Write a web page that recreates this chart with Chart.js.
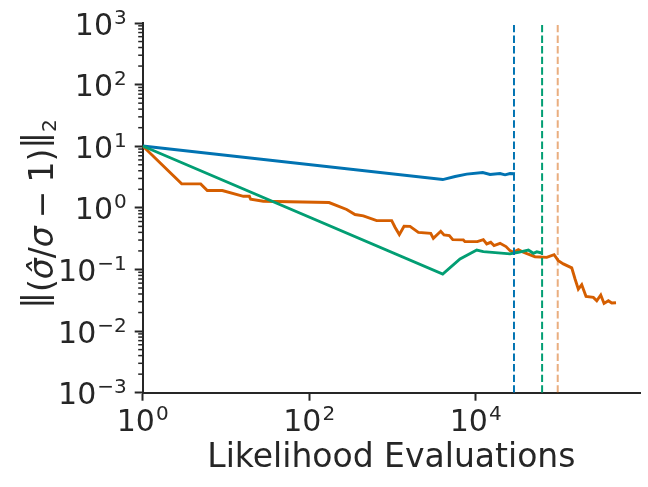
<!DOCTYPE html>
<html>
<head>
<meta charset="utf-8">
<script src="https://cdn.jsdelivr.net/npm/chart.js@4/dist/chart.umd.min.js"></script>
<style>
  html, body { margin: 0; padding: 0; background: #fff; }
  canvas { display: block; }
</style>
</head>
<body>
<canvas id="chart" width="648" height="487"></canvas>
<script>
// likelihood evaluations vs error, three runs
const blueX = [1, 4015, 5650, 7800, 12140, 14860, 19600, 22500, 25800, 29650];
const blueY = [10.1, 2.88, 3.23, 3.52, 3.75, 3.48, 3.61, 3.44, 3.61, 3.57];

const greenX = [1, 4015, 6480, 10290, 12340, 25800, 32500, 42900, 49200, 54100, 62100];
const greenY = [10.1, 0.0845, 0.148, 0.207, 0.195, 0.179, 0.19, 0.207, 0.183, 0.193, 0.185];

const orangeX = [1, 2.94, 4.97, 5.97, 9.04, 16.2, 19.1, 19.8, 28.1, 173, 282, 355, 447, 646, 979, 1073,
  1209, 1377, 1626, 2046, 2880, 3097, 3800, 4160, 4820, 5300, 7100, 7430, 10450, 12340, 13550, 15140,
  16590, 19590, 23100, 25800, 28300, 32500, 37300, 51500, 71300, 87300, 98200, 112800, 142300, 156000,
  170800, 187600, 211300, 258700, 284300, 317500, 347700, 391700, 430000, 484000];
const orangeY = [10.1, 2.45, 2.45, 1.91, 1.91, 1.54, 1.54, 1.38, 1.28, 1.22, 0.94, 0.78, 0.74, 0.62, 0.62, 0.484,
  0.368, 0.502, 0.50, 0.40, 0.386, 0.32, 0.417, 0.364, 0.355, 0.305, 0.302, 0.283, 0.283, 0.305, 0.26, 0.276,
  0.244, 0.266, 0.235, 0.202, 0.19, 0.21, 0.19, 0.161, 0.157, 0.174, 0.139, 0.123, 0.106, 0.070,
  0.048, 0.0566, 0.0365, 0.0352, 0.0311, 0.0385, 0.0281, 0.0311, 0.0285, 0.0289];

// budget markers (dashed verticals)
const vlineX = [28800, 62700, 96600];

// ticks: labels are 10^exp
const xTickValues = [1, 100, 10000];
const xTickExps = ['0', '2', '4'];
const yTickValues = [1e-3, 1e-2, 1e-1, 1, 10, 100, 1000];
const yTickExps = ['\u22123', '\u22122', '\u22121', '0', '1', '2', '3'];

const INK = '#262626';
const BLUE = '#0173B2', GREEN = '#029E73', VERM = '#D55E00', PEACH = 'rgba(213,94,0,0.5)';
const FONT = '"DejaVu Sans"';

const pts = (xs, ys) => xs.map((x, i) => ({ x: x, y: ys[i] }));
const vline = x => [{ x: x, y: yTickValues[0] }, { x: x, y: yTickValues[yTickValues.length - 1] }];

const solid = (data, color, order) => ({
  data: data, borderColor: color, borderWidth: 2.9, pointRadius: 0, tension: 0, fill: false, order: order
});
const dashed = (x, color) => ({
  data: vline(x), borderColor: color, borderWidth: 2, borderDash: [7.4, 3.2], pointRadius: 0, fill: false, order: 0
});

// matplotlib-style minor ticks on the log y axis
const minorTicks = {
  id: 'minorTicks',
  afterDraw(chart) {
    const y = chart.scales.y, ctx = chart.ctx, left = chart.chartArea.left;
    ctx.save();
    ctx.strokeStyle = INK;
    ctx.lineWidth = 1.5;
    for (let e = -3; e < 3; e++) {
      for (let k = 2; k < 10; k++) {
        const py = y.getPixelForValue(k * Math.pow(10, e));
        ctx.beginPath();
        ctx.moveTo(left - 4.5, py);
        ctx.lineTo(left, py);
        ctx.stroke();
      }
    }
    ctx.restore();
  }
};

// "10" with a raised exponent, like mathtext
const powerLabels = {
  id: 'powerLabels',
  afterDraw(chart) {
    const { ctx, chartArea } = chart;
    const base = '30px ' + FONT, sup = '20px ' + FONT;
    const widths = e => {
      ctx.font = base; const wb = ctx.measureText('10').width;
      ctx.font = sup; const we = ctx.measureText(e).width;
      return [wb, we];
    };
    const put = (e, x0, yBase, raise) => {
      const [wb] = widths(e);
      ctx.font = base; ctx.fillText('10', x0, yBase);
      ctx.font = sup; ctx.fillText(e, x0 + wb + 1, yBase - raise);
    };
    ctx.save();
    ctx.fillStyle = INK;
    ctx.textBaseline = 'alphabetic';
    ctx.textAlign = 'left';
    xTickValues.forEach((v, i) => {
      const px = chart.scales.x.getPixelForValue(v);
      const [wb, we] = widths(xTickExps[i]);
      put(xTickExps[i], px - (wb + we + 1) / 2, chartArea.bottom + 38, 10.5);
    });
    yTickValues.forEach((v, i) => {
      const py = chart.scales.y.getPixelForValue(v);
      const [wb, we] = widths(yTickExps[i]);
      put(yTickExps[i], chartArea.left - 16 - wb - we - 1, py + 11.5, 11);
    });
    ctx.restore();
  }
};

// rotated y label: norm bars, italic sigma with hat, subscript 2
const yTitle = {
  id: 'yTitle',
  afterDraw(chart) {
    const ctx = chart.ctx;
    const N = '33px ' + FONT, I = 'oblique 33px ' + FONT, S = '20px ' + FONT;
    // [text, font, gap before, raise]
    const parts = [
      ['|', N, 0, 7], ['|', N, -5.6, 7], ['(', N, 0, 0], ['\u03C3\u0302', I, 0, 0], ['/', N, 0, 0],
      ['\u03C3', I, 0, 0], ['\u2212', N, 8, 0], ['1', N, 8, 0], [')', N, 0, 0],
      ['|', N, 0, 7], ['|', N, -5.6, 7], ['2', S, 0, -3]
    ];
    let total = 0;
    parts.forEach(p => { ctx.font = p[1]; p.w = ctx.measureText(p[0]).width; total += p[2] + p.w; });
    ctx.save();
    ctx.translate(53, 214);
    ctx.rotate(-Math.PI / 2);
    ctx.fillStyle = INK;
    ctx.textBaseline = 'alphabetic';
    ctx.textAlign = 'left';
    let x = -total / 2;
    parts.forEach(p => {
      x += p[2];
      ctx.font = p[1];
      ctx.fillText(p[0], x, -p[3]);
      x += p.w;
    });
    ctx.restore();
  }
};

new Chart(document.getElementById('chart').getContext('2d'), {
  type: 'line',
  data: {
    datasets: [
      solid(pts(blueX, blueY), BLUE, 3),
      solid(pts(orangeX, orangeY), VERM, 2),
      solid(pts(greenX, greenY), GREEN, 1),
      dashed(vlineX[0], BLUE),
      dashed(vlineX[1], GREEN),
      dashed(vlineX[2], PEACH)
    ]
  },
  options: {
    responsive: false,
    animation: false,
    devicePixelRatio: 1,
    layout: { padding: { top: 23, right: 8, left: 0, bottom: 0 } },
    plugins: { legend: { display: false }, tooltip: { enabled: false } },
    scales: {
      x: {
        type: 'logarithmic',
        min: 1,
        max: 9.4e5,
        afterBuildTicks: s => { s.ticks = xTickValues.map(v => ({ value: v, major: true })); },
        afterFit: s => { s.height = 94.3; },
        ticks: { display: false, autoSkip: false },
        grid: { drawOnChartArea: false, tickLength: 8, tickWidth: 2, tickColor: INK },
        border: { display: true, color: INK, width: 2 },
        title: {
          display: true, text: 'Likelihood Evaluations', color: INK,
          font: { family: 'DejaVu Sans', size: 33 }, padding: { top: 0, bottom: 9 }
        }
      },
      y: {
        type: 'logarithmic',
        min: 1e-3,
        max: 1e3,
        afterBuildTicks: s => { s.ticks = yTickValues.map(v => ({ value: v, major: true })); },
        afterFit: s => { s.width = 142.7; },
        ticks: { display: false, autoSkip: false },
        grid: { drawOnChartArea: false, tickLength: 8, tickWidth: 2, tickColor: INK },
        border: { display: true, color: INK, width: 2 }
      }
    }
  },
  plugins: [minorTicks, powerLabels, yTitle]
});
</script>
</body>
</html>
